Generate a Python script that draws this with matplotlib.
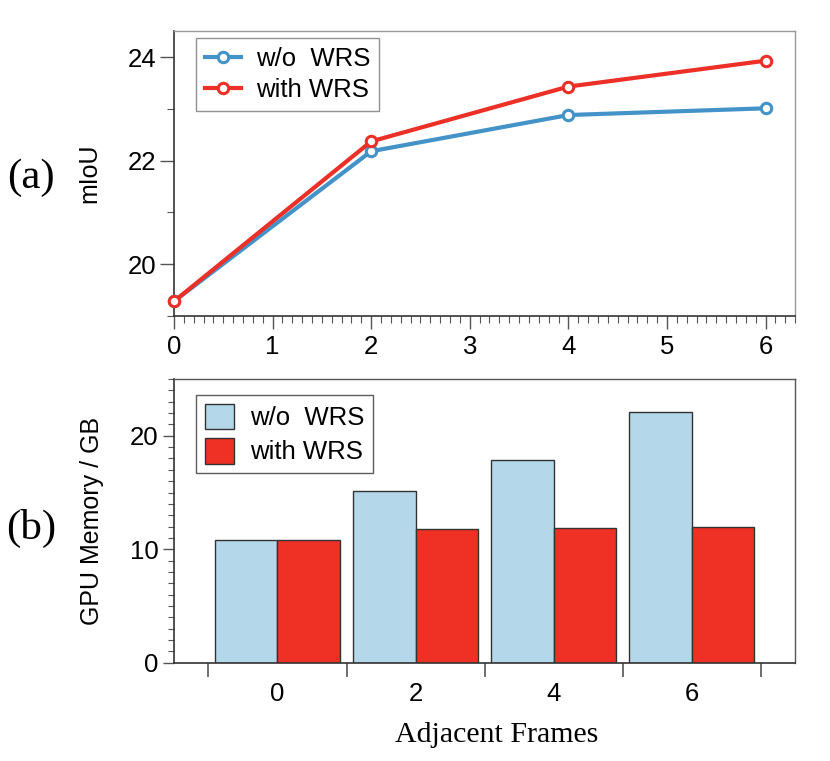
import numpy as np
import matplotlib
matplotlib.use("Agg")
import matplotlib.pyplot as plt
from matplotlib.ticker import MultipleLocator, FixedLocator
from matplotlib.patches import FancyBboxPatch
from matplotlib.legend_handler import HandlerPatch

# data
frames = [0, 2, 4, 6]
miou_wo = [19.28, 22.18, 22.88, 23.01]
miou_with = [19.28, 22.37, 23.43, 23.93]
mem_wo = [10.8, 15.1, 17.9, 22.1]
mem_with = [10.8, 11.8, 11.9, 12.0]
labels = ["w/o  WRS", "with WRS"]

line_blue = "#4393c8"
line_red = "#ec3027"
bar_blue = "#b4d7e9"
bar_red = "#ee3124"

plt.rcParams["font.family"] = ["Liberation Sans", "DejaVu Sans"]

fig = plt.figure(figsize=(8.3, 7.61), dpi=100)
ax1 = fig.add_axes([0.2096, 0.585, 0.7484, 0.374])
ax2 = fig.add_axes([0.2096, 0.129, 0.7484, 0.373])


def style_box(ax, edge):
    for s in ["top", "right"]:
        ax.spines[s].set_color(edge)
        ax.spines[s].set_linewidth(1.0)
    for s in ["left", "bottom"]:
        ax.spines[s].set_color("#333333")
        ax.spines[s].set_linewidth(1.2)


def round_patch(legend, orig_handle, xdescent, ydescent, width, height, fontsize):
    return FancyBboxPatch((-xdescent, -ydescent), width, height,
                          boxstyle="round,pad=0,rounding_size=%f" % (0.22 * height))


# (a) mIoU lines
ax1.plot(frames, miou_wo, color=line_blue, lw=3, marker="o", ms=7.5,
         mfc="white", mec=line_blue, mew=2.2, label=labels[0], clip_on=False, zorder=3)
ax1.plot(frames, miou_with, color=line_red, lw=3, marker="o", ms=7.5,
         mfc="white", mec=line_red, mew=2.2, label=labels[1], clip_on=False, zorder=4)
ax1.set_xlim(0, 6.3)
ax1.set_ylim(19.0, 24.5)
ax1.xaxis.set_major_locator(MultipleLocator(1))
ax1.xaxis.set_minor_locator(MultipleLocator(0.1))
ax1.yaxis.set_major_locator(MultipleLocator(2))
ax1.yaxis.set_minor_locator(MultipleLocator(1))
ax1.tick_params(axis="both", which="both", direction="out", colors="#555555",
                labelcolor="black", labelsize=18.5)
ax1.tick_params(axis="x", which="major", length=9, width=1, pad=5)
ax1.tick_params(axis="x", which="minor", length=5, width=0.8)
ax1.tick_params(axis="y", which="major", length=10, width=1, pad=3)
ax1.tick_params(axis="y", which="minor", length=5, width=0.8)
ax1.set_ylabel("mIoU", fontsize=18, labelpad=19)
style_box(ax1, "#999999")
leg1 = ax1.legend(loc="upper left", bbox_to_anchor=(0.035, 0.975), borderaxespad=0,
                  fontsize=18.5, frameon=True, fancybox=False, handlelength=1.4,
                  handletextpad=0.6, borderpad=0.35, labelspacing=0.25)
leg1.get_frame().set_edgecolor("#777777")
leg1.get_frame().set_linewidth(1.0)

# (b) GPU memory bars
x = np.arange(len(frames))
w = 0.45
ax2.bar(x - w / 2, mem_wo, w, color=bar_blue, edgecolor="#333333", lw=1, label=labels[0])
ax2.bar(x + w / 2, mem_with, w, color=bar_red, edgecolor="#333333", lw=1, label=labels[1])
ax2.set_xlim(-0.75, 3.75)
ax2.set_ylim(0, 25)
ax2.xaxis.set_major_locator(FixedLocator(x))
ax2.set_xticklabels([str(f) for f in frames])
ax2.xaxis.set_minor_locator(FixedLocator(np.arange(-0.5, 4.0, 1.0)))
ax2.yaxis.set_major_locator(MultipleLocator(10))
ax2.yaxis.set_minor_locator(MultipleLocator(1))
ax2.tick_params(axis="both", which="both", direction="out", colors="#555555",
                labelcolor="black", labelsize=18.5)
ax2.tick_params(axis="x", which="major", length=0, pad=14)
ax2.tick_params(axis="x", which="minor", length=10, width=1.2)
ax2.tick_params(axis="y", which="major", length=8, width=1, pad=3)
ax2.tick_params(axis="y", which="minor", length=4, width=0.8)
ax2.set_ylabel("GPU Memory / GB", fontsize=18, labelpad=19)
style_box(ax2, "#555555")
leg2 = ax2.legend(loc="upper left", bbox_to_anchor=(0.035, 0.944), borderaxespad=0,
                  fontsize=18.5, frameon=True, fancybox=False, handlelength=1.15,
                  handleheight=1.15, handletextpad=0.6, borderpad=0.35, labelspacing=0.3,
                  handler_map={matplotlib.patches.Rectangle: HandlerPatch(patch_func=round_patch)})
leg2.get_frame().set_edgecolor("#333333")
leg2.get_frame().set_linewidth(1.0)

fig.text(0.599, 0.034, "Adjacent Frames", ha="center", va="center",
         family="Liberation Serif", fontsize=21.5)
fig.text(0.037, 0.767, "(a)", ha="center", va="center",
         family="Liberation Serif", fontsize=31)
fig.text(0.037, 0.305, "(b)", ha="center", va="center",
         family="Liberation Serif", fontsize=31)

fig.savefig("out.png", dpi=100)
